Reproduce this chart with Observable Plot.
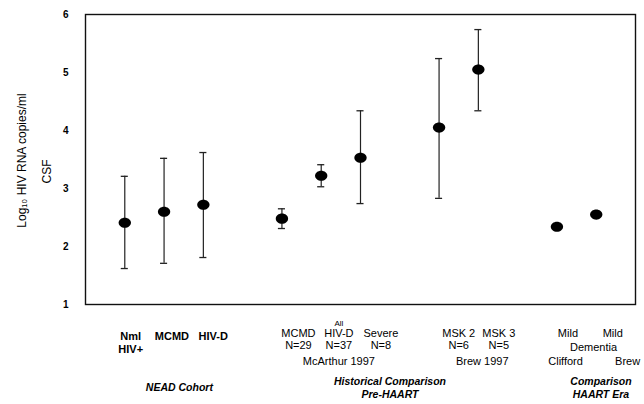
<!DOCTYPE html>
<html><head><meta charset="utf-8">
<script src="https://cdn.jsdelivr.net/npm/d3@7"></script>
<script src="https://cdn.jsdelivr.net/npm/@observablehq/plot@0.6"></script>
<style>body{margin:0;background:#fff;font-family:"Liberation Sans",Arial,sans-serif}#chart{width:644px;height:404px}</style>
</head><body><div id="chart"></div>
<script>
// ---- data ----
const slots = [0, 1, 2, 4, 5, 6, 8, 9, 11, 12];
const means = [2.41, 2.60, 2.72, 2.48, 3.22, 3.53, 4.05, 5.05, 2.34, 2.55];
const upper = [3.21, 3.52, 3.62, 2.65, 3.41, 4.34, 5.24, 5.74, null, null];
const lower = [1.62, 1.71, 1.81, 2.31, 3.03, 2.74, 2.83, 4.34, null, null];
const line1 = ["Nml", "MCMD", "HIV-D", "MCMD", "HIV-D", "Severe", "MSK 2", "MSK 3", "Mild", "Mild"];
const line2 = ["HIV+", "", "", "N=29", "N=37", "N=8", "N=6", "N=5", "", ""];
const nead = [true, true, true, false, false, false, false, false, false, false];
const subText = ["McArthur 1997", "Brew 1997", "Clifford", "Brew"];
const subSlot = [5, 8.5, 11, 12];
const dementiaText = "Dementia";
const dementiaSlot = 11.5;
const groupLine1 = ["NEAD Cohort", "Historical Comparison", "Comparison"];
const groupLine2 = ["", "Pre-HAART", "HAART Era"];
const groupSlot = [1, 6.5, 11.5];
const yTicks = [1, 2, 3, 4, 5, 6];

// ---- layout helpers (label shifts in slot units) ----
const labelShift = [0.15, 0.2, 0.25, 0.42, 0.45, 0.52, 0.5, 0.52, 0.28, 0.42];
const subShift = [0.45, 0.6, 0.22, 0.8];
const groupShift = [0.39, 0.25, 0.62];

const cats = slots.map((s, i) => ({slot: s, mean: means[i], hi: upper[i], lo: lower[i], l1: line1[i], l2: line2[i], bold: nead[i], sh: labelShift[i]}));
const bars = cats.filter(d => d.hi != null);
const subs = subText.map((t, i) => ({text: t, x: subSlot[i] + subShift[i]}));
const groups = groupLine1.map((t, i) => ({t1: t, t2: groupLine2[i], x: groupSlot[i] + groupShift[i]}));

const ellipse = {
  draw(ctx, size) {
    const r = Math.sqrt(size / Math.PI), rx = r * 1.1, ry = r * 0.9, k = 0.5523;
    ctx.moveTo(rx, 0);
    ctx.bezierCurveTo(rx, ry * k, rx * k, ry, 0, ry);
    ctx.bezierCurveTo(-rx * k, ry, -rx, ry * k, -rx, 0);
    ctx.bezierCurveTo(-rx, -ry * k, -rx * k, -ry, 0, -ry);
    ctx.bezierCurveTo(rx * k, -ry, rx, -ry * k, rx, 0);
    ctx.closePath();
  }
};

const font = "Liberation Sans, Arial, sans-serif";
const capW = 0.09;

const chart = Plot.plot({
  width: 644, height: 404,
  marginLeft: 85, marginRight: 9, marginTop: 14, marginBottom: 100,
  style: {fontFamily: font, background: "#fff", color: "#000"},
  x: {domain: [-1, 13], axis: null},
  y: {domain: [1, 6]},
  marks: [
    Plot.axisY({ticks: yTicks, tickSize: 0, tickPadding: 17, fontSize: 10, fontWeight: "bold", label: null, tickFormat: d => d}),
    Plot.frame({stroke: "#111", strokeWidth: 1.4}),
    Plot.ruleX(bars, {x: "slot", y1: "lo", y2: "hi", stroke: "#222", strokeWidth: 1.2}),
    Plot.ruleY(bars, {y: "hi", x1: d => d.slot - capW, x2: d => d.slot + capW, stroke: "#222", strokeWidth: 1.3}),
    Plot.ruleY(bars, {y: "lo", x1: d => d.slot - capW, x2: d => d.slot + capW, stroke: "#222", strokeWidth: 1.3}),
    Plot.dot(cats, {x: "slot", y: "mean", r: 5.6, fill: "#000", symbol: ellipse}),
    // y title
    Plot.text(["Log\u2081\u2080 HIV RNA copies/ml"], {frameAnchor: "left", textAnchor: "middle", dx: -63, dy: 1, rotate: -90, fontSize: 12, fill: "#000"}),
    Plot.text(["CSF"], {frameAnchor: "left", textAnchor: "middle", dx: -38, dy: 12, rotate: -90, fontSize: 12, fill: "#000"}),
    // category labels
    Plot.text(cats.filter(d => d.bold), {x: d => d.slot + d.sh, frameAnchor: "bottom", dy: 35, text: "l1", fontSize: 11, fontWeight: "bold", fill: "#000"}),
    Plot.text(cats.filter(d => d.bold), {x: d => d.slot + d.sh, frameAnchor: "bottom", dy: 48, text: "l2", fontSize: 11, fontWeight: "bold", fill: "#000"}),
    Plot.text(cats.filter(d => !d.bold), {x: d => d.slot + d.sh, frameAnchor: "bottom", dy: 32, text: "l1", fontSize: 11, fill: "#000"}),
    Plot.text(cats.filter(d => !d.bold), {x: d => d.slot + d.sh, frameAnchor: "bottom", dy: 44, text: "l2", fontSize: 11, fill: "#000"}),
    Plot.text(["All"], {x: 5 + 0.45, frameAnchor: "bottom", dy: 21, fontSize: 8, fill: "#000"}),
    Plot.text(subs, {x: "x", frameAnchor: "bottom", dy: 60, text: "text", fontSize: 11, fill: "#000"}),
    Plot.text([dementiaText], {x: dementiaSlot + 0.43, frameAnchor: "bottom", dy: 46, fontSize: 11, fill: "#000"}),
    // group titles
    Plot.text(groups.slice(0, 1), {x: "x", frameAnchor: "bottom", dy: 86, text: "t1", fontSize: 10.5, fontWeight: "bold", fontStyle: "italic", fill: "#000"}),
    Plot.text(groups.slice(1), {x: "x", frameAnchor: "bottom", dy: 80, text: "t1", fontSize: 10.5, fontWeight: "bold", fontStyle: "italic", fill: "#000"}),
    Plot.text(groups.slice(1), {x: "x", frameAnchor: "bottom", dy: 93, text: "t2", fontSize: 10.5, fontWeight: "bold", fontStyle: "italic", fill: "#000"})
  ]
});
document.getElementById("chart").appendChild(chart);
</script>
</body></html>
